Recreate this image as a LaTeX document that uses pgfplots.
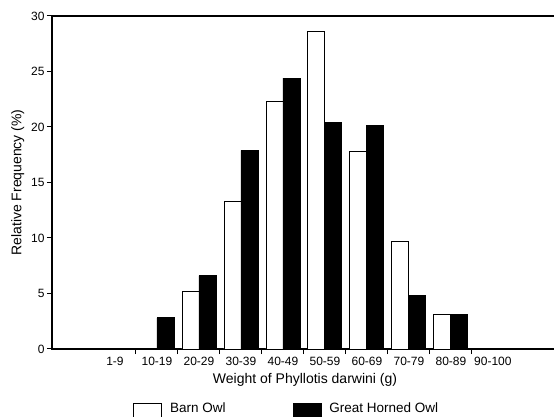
\documentclass[border=0pt]{standalone}
\usepackage{pgfplots}
\pgfplotsset{compat=1.18}
\usepackage{fontspec}
\setmainfont{Liberation Sans}
\begin{document}
\begin{tikzpicture}
\begin{axis}[
  scale only axis,
  width=506pt, height=333pt,
  at={(0,0)}, anchor=south west,
  ybar=0pt, bar width=17pt,
  xmin=-1.5, xmax=10.55,
  ymin=0, ymax=30,
  ytick={0,5,...,30},
  xtick={0,...,9},
  xticklabels={1-9,10-19,20-29,30-39,40-49,50-59,60-69,70-79,80-89,90-100},
  major x tick style={draw=none},
  minor xtick={0.5,1.5,...,8.5},
  tick align=outside, tick pos=left,
  major tick length=5pt, minor tick length=5pt,
  every tick/.style={black, line width=1pt},
  axis line style={line width=1.2pt},
  ticklabel style={font=\fontsize{12}{14}\selectfont},
  yticklabel style={xshift=1pt},
  /pgf/number format/assume math mode=true,
  xlabel={Weight of Phyllotis darwini (g)},
  ylabel={Relative Frequency (\%)},
  label style={font=\fontsize{14}{16}\selectfont},
  legend columns=2,
  legend style={draw=none, fill=none, at={(0,0)}, anchor=north west,
    xshift=78pt, yshift=-50pt,
    font=\fontsize{13.5}{16}\selectfont,
    /tikz/every even column/.append style={column sep=65pt}},
  legend image code/.code={\draw[#1, line width=0.8pt] (0pt,-9pt) rectangle (28pt,5pt);
    \path (34pt,0pt);},
]
\addplot[draw=black, fill=white, line width=0.9pt] coordinates {
  (2,5.2) (3,13.3) (4,22.3) (5,28.6) (6,17.8) (7,9.7) (8,3.1)};
\addlegendentry{Barn Owl}
\addplot[draw=black, fill=black, line width=0.9pt] coordinates {
  (1,2.8) (2,6.6) (3,17.9) (4,24.4) (5,20.4) (6,20.1) (7,4.8) (8,3.1)};
\addlegendentry{Great Horned Owl}
\end{axis}
\pgfresetboundingbox
\path[use as bounding box] (-52pt,-68pt) rectangle (502pt,349pt);
\end{tikzpicture}
\end{document}
